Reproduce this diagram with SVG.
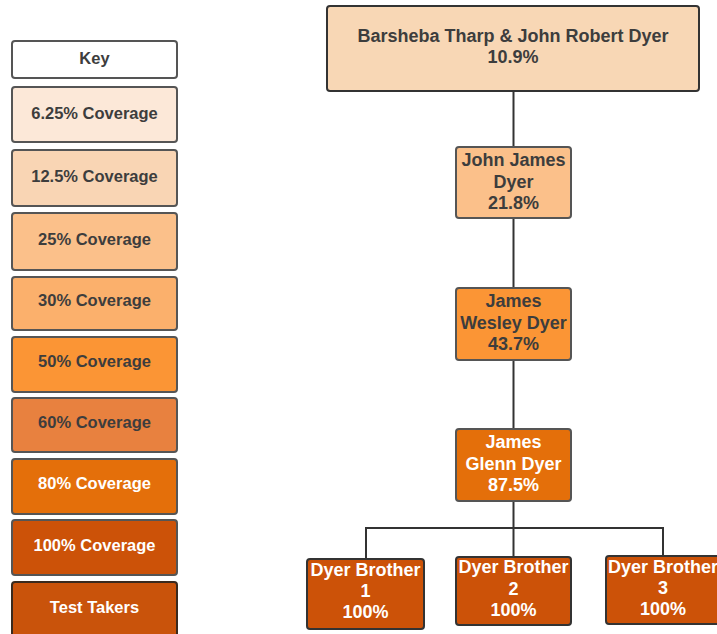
<svg xmlns="http://www.w3.org/2000/svg" width="717" height="634" viewBox="0 0 717 634">
<style>
.box{stroke:#555;stroke-width:2}
.t{font-family:"Liberation Sans",Arial,sans-serif;font-weight:bold;font-size:16.5px;text-anchor:middle;fill:#3d3d3d}
.n{font-size:18px}
.w{fill:#fff}
.c{fill:none;stroke:#333;stroke-width:2}
</style>
<rect width="717" height="634" fill="#fff"/>
<g id="key">
<g id="key-title"><rect class="box" x="12" y="41" width="165" height="37" rx="3" fill="#fff"/><text class="t" x="94.5" y="64">Key</text></g>
<g id="key-625"><rect class="box" x="12" y="87" width="165" height="55" rx="3" fill="#fce8d8"/><text class="t" x="94.5" y="119">6.25% Coverage</text></g>
<g id="key-125"><rect class="box" x="12" y="150" width="165" height="56" rx="3" fill="#f9d5b4"/><text class="t" x="94.5" y="182">12.5% Coverage</text></g>
<g id="key-25"><rect class="box" x="12" y="213" width="165" height="57" rx="3" fill="#fbc08a"/><text class="t" x="94.5" y="245">25% Coverage</text></g>
<g id="key-30"><rect class="box" x="12" y="277" width="165" height="53" rx="3" fill="#fbb06c"/><text class="t" x="94.5" y="306">30% Coverage</text></g>
<g id="key-50"><rect class="box" x="12" y="337" width="165" height="55" rx="3" fill="#fb9535"/><text class="t" x="94.5" y="367">50% Coverage</text></g>
<g id="key-60"><rect class="box" x="12" y="398" width="165" height="54" rx="3" fill="#e8813f"/><text class="t" x="94.5" y="428">60% Coverage</text></g>
<g id="key-80"><rect class="box" x="12" y="459" width="165" height="55" rx="3" fill="#e46f0a"/><text class="t w" x="94.5" y="489">80% Coverage</text></g>
<g id="key-100"><rect class="box" x="12" y="520" width="165" height="55" rx="3" fill="#cc5208"/><text class="t w" x="94.5" y="551">100% Coverage</text></g>
<g id="key-test"><rect x="12" y="582" width="165" height="60" rx="3" fill="#c9530b" stroke="#3a2a1e" stroke-width="2"/><text class="t w" x="94.5" y="613">Test Takers</text></g>
</g>
<g id="connectors">
<line class="c" x1="513.5" y1="91" x2="513.5" y2="147"/>
<line class="c" x1="513.5" y1="218" x2="513.5" y2="288"/>
<line class="c" x1="513.5" y1="360" x2="513.5" y2="429"/>
<line class="c" x1="513.5" y1="501" x2="513.5" y2="557"/>
<polyline class="c" points="366,559 366,528 663,528 663,556"/>
</g>
<g id="n-barsheba"><rect x="327" y="6" width="372" height="85" rx="3" fill="#f8d7b5" stroke="#333" stroke-width="2"/><text class="t n" x="513" y="42">Barsheba Tharp &amp; John Robert Dyer</text><text class="t n" x="513" y="63">10.9%</text></g>
<g id="n-johnjames"><rect class="box" x="456" y="147" width="115" height="71" rx="3" fill="#fbc08a"/><text class="t n" x="513.5" y="166">John James</text><text class="t n" x="513.5" y="188">Dyer</text><text class="t n" x="513.5" y="209">21.8%</text></g>
<g id="n-jameswesley"><rect class="box" x="456" y="288" width="115" height="72" rx="3" fill="#fb9535"/><text class="t n" x="513.5" y="307">James</text><text class="t n" x="513.5" y="329">Wesley Dyer</text><text class="t n" x="513.5" y="350">43.7%</text></g>
<g id="n-jamesglenn"><rect class="box" x="456" y="429" width="115" height="72" rx="3" fill="#e46f0a"/><text class="t n w" x="513.5" y="448">James</text><text class="t n w" x="513.5" y="470">Glenn Dyer</text><text class="t n w" x="513.5" y="491">87.5%</text></g>
<g id="n-brother1"><rect x="307" y="559" width="117" height="70" rx="3" fill="#cc5208" stroke="#333" stroke-width="2"/><text class="t n w" x="365.5" y="576">Dyer Brother</text><text class="t n w" x="365.5" y="597">1</text><text class="t n w" x="365.5" y="618">100%</text></g>
<g id="n-brother2"><rect x="456" y="557" width="115" height="68" rx="3" fill="#cc5208" stroke="#333" stroke-width="2"/><text class="t n w" x="513.5" y="573">Dyer Brother</text><text class="t n w" x="513.5" y="595">2</text><text class="t n w" x="513.5" y="616">100%</text></g>
<g id="n-brother3"><rect x="606" y="556" width="116" height="68" rx="3" fill="#cc5208" stroke="#333" stroke-width="2"/><text class="t n w" x="663" y="573">Dyer Brother</text><text class="t n w" x="663" y="594">3</text><text class="t n w" x="663" y="615">100%</text></g>
</svg>
